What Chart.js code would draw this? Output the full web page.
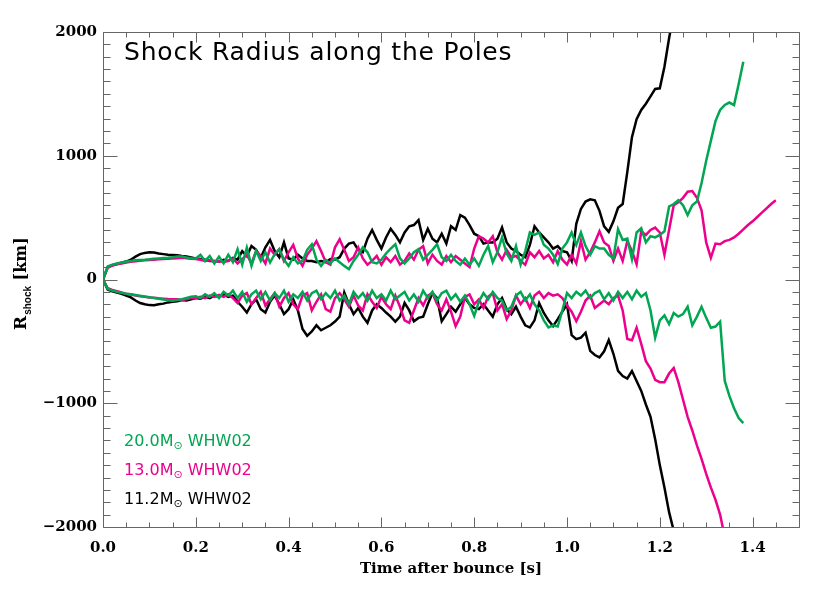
<!DOCTYPE html>
<html>
<head>
<meta charset="utf-8">
<script src="https://cdn.jsdelivr.net/npm/chart.js@4.4.1/dist/chart.umd.min.js"></script>
<style>
  html, body { margin: 0; padding: 0; background: #fff; }
  canvas { display: block; }
</style>
</head>
<body>
<canvas id="shockChart" width="830" height="593"></canvas>
<script>
// time after bounce [s]
const time = [
  0.00, 0.01, 0.02, 0.03, 0.04, 0.05, 0.06, 0.07, 0.08, 0.09,
  0.10, 0.11, 0.12, 0.13, 0.14, 0.15, 0.16, 0.17, 0.18, 0.19,
  0.20, 0.21, 0.22, 0.23, 0.24, 0.25, 0.26, 0.27, 0.28, 0.29,
  0.30, 0.31, 0.32, 0.33, 0.34, 0.35, 0.36, 0.37, 0.38, 0.39,
  0.40, 0.41, 0.42, 0.43, 0.44, 0.45, 0.46, 0.47, 0.48, 0.49,
  0.50, 0.51, 0.52, 0.53, 0.54, 0.55, 0.56, 0.57, 0.58, 0.59,
  0.60, 0.61, 0.62, 0.63, 0.64, 0.65, 0.66, 0.67, 0.68, 0.69,
  0.70, 0.71, 0.72, 0.73, 0.74, 0.75, 0.76, 0.77, 0.78, 0.79,
  0.80, 0.81, 0.82, 0.83, 0.84, 0.85, 0.86, 0.87, 0.88, 0.89,
  0.90, 0.91, 0.92, 0.93, 0.94, 0.95, 0.96, 0.97, 0.98, 0.99,
  1.00, 1.01, 1.02, 1.03, 1.04, 1.05, 1.06, 1.07, 1.08, 1.09,
  1.10, 1.11, 1.12, 1.13, 1.14, 1.15, 1.16, 1.17, 1.18, 1.19,
  1.20, 1.21, 1.22, 1.23, 1.24, 1.25, 1.26, 1.27, 1.28, 1.29,
  1.30, 1.31, 1.32, 1.33, 1.34, 1.35, 1.36, 1.37, 1.38, 1.39,
  1.40, 1.41, 1.42, 1.43, 1.44, 1.45
];

// 20.0 Msun, north / south pole shock radius [km]
const green20Up = [
  0, 105, 120, 130, 138, 145, 150, 155, 158, 160,
  163, 167, 170, 173, 176, 180, 185, 185, 178, 172,
  170, 200, 150, 190, 130, 185, 130, 200, 140, 245,
  120, 258, 110, 230, 150, 220, 137, 204, 245, 160,
  110, 180, 130, 150, 240, 285, 160, 110, 160, 130,
  170, 140, 110, 83, 150, 200, 260, 220, 140, 130,
  160, 210, 250, 285, 170, 130, 170, 220, 245, 160,
  200, 240, 285, 180, 150, 200, 150, 120, 170, 120,
  170, 110, 200, 270, 140, 220, 340, 210, 150, 270,
  120, 230, 380, 360, 380, 280, 250, 200, 124, 250,
  300, 380, 280, 380, 270, 200, 270, 250, 250, 200,
  170, 406, 320, 330, 164, 380, 414, 300, 350, 340,
  360, 390, 590, 610, 640, 600, 520, 600, 630, 780,
  960, 1120, 1280, 1370, 1410, 1430, 1410, 1580, 1760
];
const green20Down = [
  0, -75, -90, -100, -108, -115, -120, -125, -132, -138,
  -143, -150, -155, -162, -168, -172, -165, -160, -150, -140,
  -135, -150, -120, -140, -110, -150, -100, -130, -90, -150,
  -100, -180, -120, -90, -160, -100, -170, -110, -150, -90,
  -180, -120, -150, -100, -170, -110, -90, -160, -110, -150,
  -90, -170, -130, -200, -100, -150, -110, -170, -90, -150,
  -120, -170, -90, -160, -130, -100, -170, -120, -180, -90,
  -150, -100, -170, -110, -90, -160, -120, -180, -130, -200,
  -294, -180, -110, -160, -100, -150, -170, -250, -220, -130,
  -100, -170, -120, -200, -250, -330, -388, -370, -380, -250,
  -110, -150, -100, -130, -90, -150, -110, -90, -160, -110,
  -170, -100, -150, -100, -160, -90, -140, -110, -250, -470,
  -330, -290, -360, -270, -300, -280, -220, -370, -300, -220,
  -310, -390, -380, -340, -820, -940, -1040, -1120, -1160
];

// 13.0 Msun
const magenta13Up = [
  0, 95, 112, 122, 130, 137, 143, 148, 152, 155,
  158, 160, 163, 165, 167, 170, 172, 175, 172, 168,
  165, 160, 150, 155, 145, 150, 140, 150, 170, 130,
  165, 200, 130, 230, 190, 130, 250, 200, 245, 150,
  220, 280, 170, 110, 200, 250, 310, 230, 140, 120,
  260, 325, 240, 150, 180, 260, 170, 120, 150, 190,
  120, 180, 140, 190, 120, 150, 210, 160, 240, 270,
  130, 200, 150, 120, 190, 140, 190, 160, 130, 100,
  250, 350, 330, 300, 350, 220, 160, 240, 180, 190,
  150, 120, 220, 180, 230, 170, 200, 140, 230, 160,
  120, 200, 130, 310, 160, 220, 300, 390, 300, 270,
  150, 250, 150, 310, 230, 124, 390, 360, 400, 420,
  380, 200, 400, 600, 625, 660, 710, 715, 660, 560,
  300, 175, 290, 285, 310, 320, 340, 370, 405, 440,
  470, 505, 540, 575, 610, 640
];
const magenta13Down = [
  0, -70, -85, -95, -105, -115, -122, -130, -135, -140,
  -145, -148, -152, -155, -158, -160, -160, -165, -160, -150,
  -150, -140, -150, -130, -140, -125, -140, -120, -150, -190,
  -130, -110, -200, -150, -100, -210, -160, -110, -220, -150,
  -110, -200, -240, -130, -110, -250, -180, -120, -240, -260,
  -150, -110, -160, -220, -130, -210, -250, -120, -180, -230,
  -140, -200, -240, -130, -220, -330, -350, -250, -150, -210,
  -130, -110, -200, -250, -160, -260, -377, -300, -140, -120,
  -200, -160, -230, -140, -110, -250, -200, -320, -250, -130,
  -200, -150, -230, -130, -100, -150, -110, -130, -120, -150,
  -210, -260, -337, -260, -170, -130, -230, -200, -170, -200,
  -150, -130, -250, -480, -490, -390, -520, -660, -720, -810,
  -830, -830, -760, -715, -830, -970, -1110, -1220, -1340, -1450,
  -1570, -1680, -1780, -1900, -2080
];

// 11.2 Msun
const black11Up = [
  0, 100, 115, 125, 135, 145, 160, 185, 205, 215,
  220, 218, 210, 205, 200, 198, 196, 190, 185, 178,
  170, 165, 160, 150, 150, 145, 160, 150, 175, 160,
  230, 190, 270, 240, 175, 260, 320, 230, 180, 300,
  170, 160, 200, 170, 150, 150, 140, 150, 140, 165,
  160, 180, 250, 290, 300, 240, 220, 330, 400, 320,
  250, 340, 410, 360, 300, 380, 430, 440, 480, 320,
  410, 330, 300, 370, 290, 430, 400, 520, 500, 440,
  370, 350, 290, 300, 300, 330, 420, 300, 250, 230,
  200, 180, 280, 430, 380, 340, 300, 250, 270, 230,
  220, 150, 450, 570, 630, 648, 640, 555, 430, 385,
  470, 580, 610, 870, 1150, 1295, 1370, 1420, 1480, 1540,
  1545, 1720, 1950, 2150
];
const black11Down = [
  0, -80, -95, -105, -115, -130, -145, -170, -190, -200,
  -207, -208, -200, -195, -185, -180, -175, -165, -170, -160,
  -150, -155, -140, -150, -130, -140, -120, -140, -130, -180,
  -220, -267, -200, -160, -240, -267, -180, -130, -200, -280,
  -240, -160, -250, -400, -455, -420, -370, -410, -390, -370,
  -340, -300, -105, -200, -280, -230, -300, -350, -250, -200,
  -230, -267, -300, -340, -300, -190, -250, -337, -310, -300,
  -200, -110, -150, -337, -280, -220, -260, -200, -150, -200,
  -230, -240, -200, -250, -300, -200, -150, -240, -280, -220,
  -300, -370, -388, -330, -190, -270, -330, -377, -320, -260,
  -200, -450, -482, -470, -430, -577, -610, -630, -580, -490,
  -600, -738, -780, -800, -740, -820, -900, -1010, -1110, -1290,
  -1500, -1680, -1880, -2030
];

const xTicks = [0, 0.2, 0.4, 0.6, 0.8, 1.0, 1.2, 1.4];
const yTicks = [-2000, -1000, 0, 1000, 2000];

const GREEN = '#00a651';
const MAGENTA = '#ec008c';
const BLACK = '#000000';

const legendRows = [
  { mass: '20.0M', tag: ' WHW02', color: GREEN },
  { mass: '13.0M', tag: ' WHW02', color: MAGENTA },
  { mass: '11.2M', tag: ' WHW02', color: BLACK },
];

const toPoints = (vals) => vals.map((v, i) => ({ x: time[i], y: v }));

function curve(vals, color, order) {
    return {
        data: toPoints(vals),
        borderColor: color,
        backgroundColor: color,
        borderWidth: 2.5,
        pointRadius: 0,
        tension: 0,
        fill: false,
        order: order,
    };
}

// frame, inward IDL style ticks, titles and the legend
const decor = {
    id: 'decor',
    afterDraw(chart) {
        const { ctx, chartArea: a, scales } = chart;
        const x = scales.x, y = scales.y;
        const L = Math.round(a.left) + 0.5, R = Math.round(a.right) + 0.5;
        const T = Math.round(a.top) + 0.5, B = Math.round(a.bottom) + 0.5;
        ctx.save();
        ctx.strokeStyle = '#666';
        ctx.lineWidth = 1;
        ctx.beginPath();
        ctx.rect(L, T, R - L, B - T);
        // x ticks every 0.05, major every 0.2
        for (let i = 0; i <= 30; i++) {
            const px = Math.round(x.getPixelForValue(i * 0.05)) + 0.5;
            const len = i % 4 === 0 ? 10 : 5;
            ctx.moveTo(px, B); ctx.lineTo(px, B - len);
            ctx.moveTo(px, T); ctx.lineTo(px, T + len);
        }
        // y ticks every 100, major every 1000
        for (let i = -20; i <= 20; i++) {
            const py = Math.round(y.getPixelForValue(i * 100)) + 0.5;
            const len = i % 10 === 0 ? 14 : 7;
            ctx.moveTo(L, py); ctx.lineTo(L + len, py);
            ctx.moveTo(R, py); ctx.lineTo(R - len, py);
        }
        ctx.stroke();

        // title inside the plot
        ctx.fillStyle = '#000';
        ctx.textBaseline = 'alphabetic';
        ctx.textAlign = 'left';
        ctx.font = '25px "DejaVu Sans"';
        ctx.letterSpacing = '0.8px';
        ctx.fillText('Shock Radius along the Poles', 124, 60);
        ctx.letterSpacing = '0px';

        // legend
        legendRows.forEach((row, i) => {
            const base = 446 + i * 29;
            let cx = 124;
            ctx.fillStyle = row.color;
            ctx.font = '16px "DejaVu Sans"';
            ctx.fillText(row.mass, cx, base);
            cx += ctx.measureText(row.mass).width;
            ctx.font = '11px "DejaVu Sans"';
            ctx.fillText('\u2299', cx, base + 3);
            cx += ctx.measureText('\u2299').width;
            ctx.font = '16px "DejaVu Sans"';
            ctx.fillText(row.tag, cx, base);
        });

        // y axis title: R_shock [km]
        ctx.translate(26, 330);
        ctx.rotate(-Math.PI / 2);
        ctx.fillStyle = '#000';
        let tx = 0;
        ctx.font = 'bold 17px "DejaVu Serif"';
        ctx.fillText('R', tx, 0);
        tx += ctx.measureText('R').width + 1;
        ctx.font = 'bold 10px "Liberation Sans"';
        ctx.fillText('shock', tx, 5);
        tx += ctx.measureText('shock').width;
        ctx.font = 'bold 16px "DejaVu Serif"';
        ctx.fillText(' [km]', tx, 0);
        ctx.restore();
    }
};

const tickFont = { family: 'DejaVu Serif', size: 15, weight: 'bold' };

new Chart(document.getElementById('shockChart').getContext('2d'), {
    type: 'line',
    data: {
        datasets: [
            curve(black11Up, BLACK, 3),
            curve(black11Down, BLACK, 3),
            curve(magenta13Up, MAGENTA, 2),
            curve(magenta13Down, MAGENTA, 2),
            curve(green20Up, GREEN, 1),
            curve(green20Down, GREEN, 1),
        ],
    },
    options: {
        responsive: false,
        animation: false,
        layout: { padding: { top: 32, right: 31, left: 0, bottom: 0 } },
        plugins: {
            legend: { display: false },
            tooltip: { enabled: false },
        },
        scales: {
            x: {
                type: 'linear',
                min: 0,
                max: 1.5,
                grid: { display: false, drawTicks: false },
                border: { display: false },
                afterBuildTicks: (scale) => { scale.ticks = xTicks.map(v => ({ value: v })); },
                ticks: {
                    font: tickFont,
                    color: '#000',
                    padding: 12,
                    maxRotation: 0,
                    autoSkip: false,
                    callback: (v) => Number(v).toFixed(1),
                },
                title: {
                    display: true,
                    text: 'Time after bounce [s]',
                    color: '#000',
                    font: tickFont,
                    padding: { top: 0, bottom: 15 },
                },
                afterFit: (scale) => { scale.height = 66; },
            },
            y: {
                type: 'linear',
                min: -2000,
                max: 2000,
                grid: { display: false, drawTicks: false },
                border: { display: false },
                afterBuildTicks: (scale) => { scale.ticks = yTicks.map(v => ({ value: v })); },
                ticks: {
                    font: tickFont,
                    color: '#000',
                    padding: 6,
                    callback: (v) => (v < 0 ? '\u2212' + Math.abs(v) : String(v)),
                },
                afterFit: (scale) => { scale.width = 103; },
            },
        },
    },
    plugins: [decor],
});
</script>
</body>
</html>
